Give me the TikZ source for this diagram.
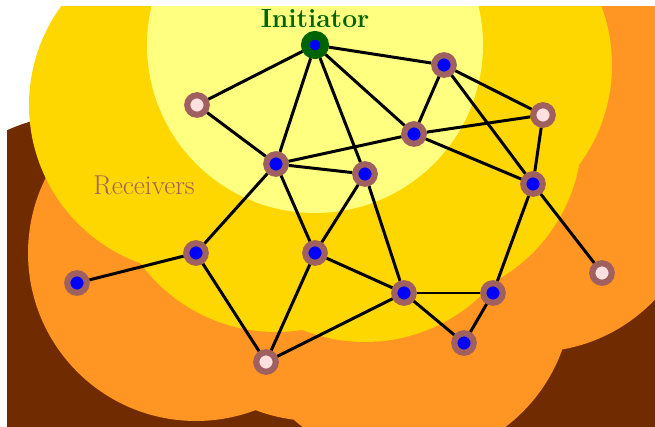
\documentclass[tikz,border=0pt]{standalone}

\definecolor{zoneA}{HTML}{FFFF80}
\definecolor{zoneB}{HTML}{FFD700}
\definecolor{zoneC}{HTML}{FF9623}
\definecolor{zoneD}{HTML}{702C00}
\definecolor{ringcolor}{HTML}{A06060}
\definecolor{leafcolor}{HTML}{FFE0E0}
\definecolor{initcolor}{HTML}{006400}

\begin{document}
\begin{tikzpicture}[
    x=0.02cm, y=-0.02cm,
    recv/.style={circle, draw=ringcolor, fill=blue, line width=3.5pt,
        minimum size=0.39cm, inner sep=0pt},
    leaf/.style={recv, fill=leafcolor},
    init/.style={recv, draw=initcolor, line width=4.9pt},
    link/.style={black, line width=1.7pt},
    zonedisc/.style={radius=3.36cm},
]
\useasboundingbox (0, 0) rectangle (655, 426);

% Positions
\foreach \n/\x/\y in {
    I/315/45, A/197/105, B/276/164, C/365/174, D/414/134,
    E/444/65, F/543/115, G/533/184, H/196/253, J/315/253,
    K/77/283, L/266/362, M/404/293, N/493/293, O/464/343,
    P/602/273} {
    \coordinate (p\n) at (\x, \y);
}

% Coverage zones, one per hop
\begin{scope}
\clip (7, 6) rectangle (655, 426);
\fill[zoneD] \foreach \n in {K, L, N, O, P} {(p\n) circle[zonedisc]};
\fill[zoneC] \foreach \n in {F, G, H, J, M} {(p\n) circle[zonedisc]};
\fill[zoneB] \foreach \n in {A, B, C, D, E} {(p\n) circle[zonedisc]};
\fill[zoneA] (pI) circle[zonedisc];
\end{scope}

% Nodes
\node[init] (I) at (pI) {};
\foreach \n in {B, C, D, E, G, H, J, K, M, N, O}
    \node[recv] (\n) at (p\n) {};
\foreach \n in {A, F, L, P}
    \node[leaf] (\n) at (p\n) {};

% Links
\foreach \a/\b in {
    I/A, I/B, I/C, I/D, I/E, A/B, B/C, B/D, D/F, B/H,
    B/J, C/J, C/M, D/E, D/G, E/F, E/G, F/G, G/N, G/P,
    H/K, H/L, J/L, J/M, L/M, M/N, M/O, N/O} {
    \draw[link] (\a) -- (\b);
}

% Labels
\node[anchor=base, text=initcolor, font=\fontsize{15}{18}\selectfont\bfseries]
    (initlabel) at (315, 28) {Initiator};
\node[anchor=base, text=ringcolor, font=\fontsize{15.5}{19}\selectfont]
    (recvlabel) at (144, 194) {Receivers};

\end{tikzpicture}
\end{document}
